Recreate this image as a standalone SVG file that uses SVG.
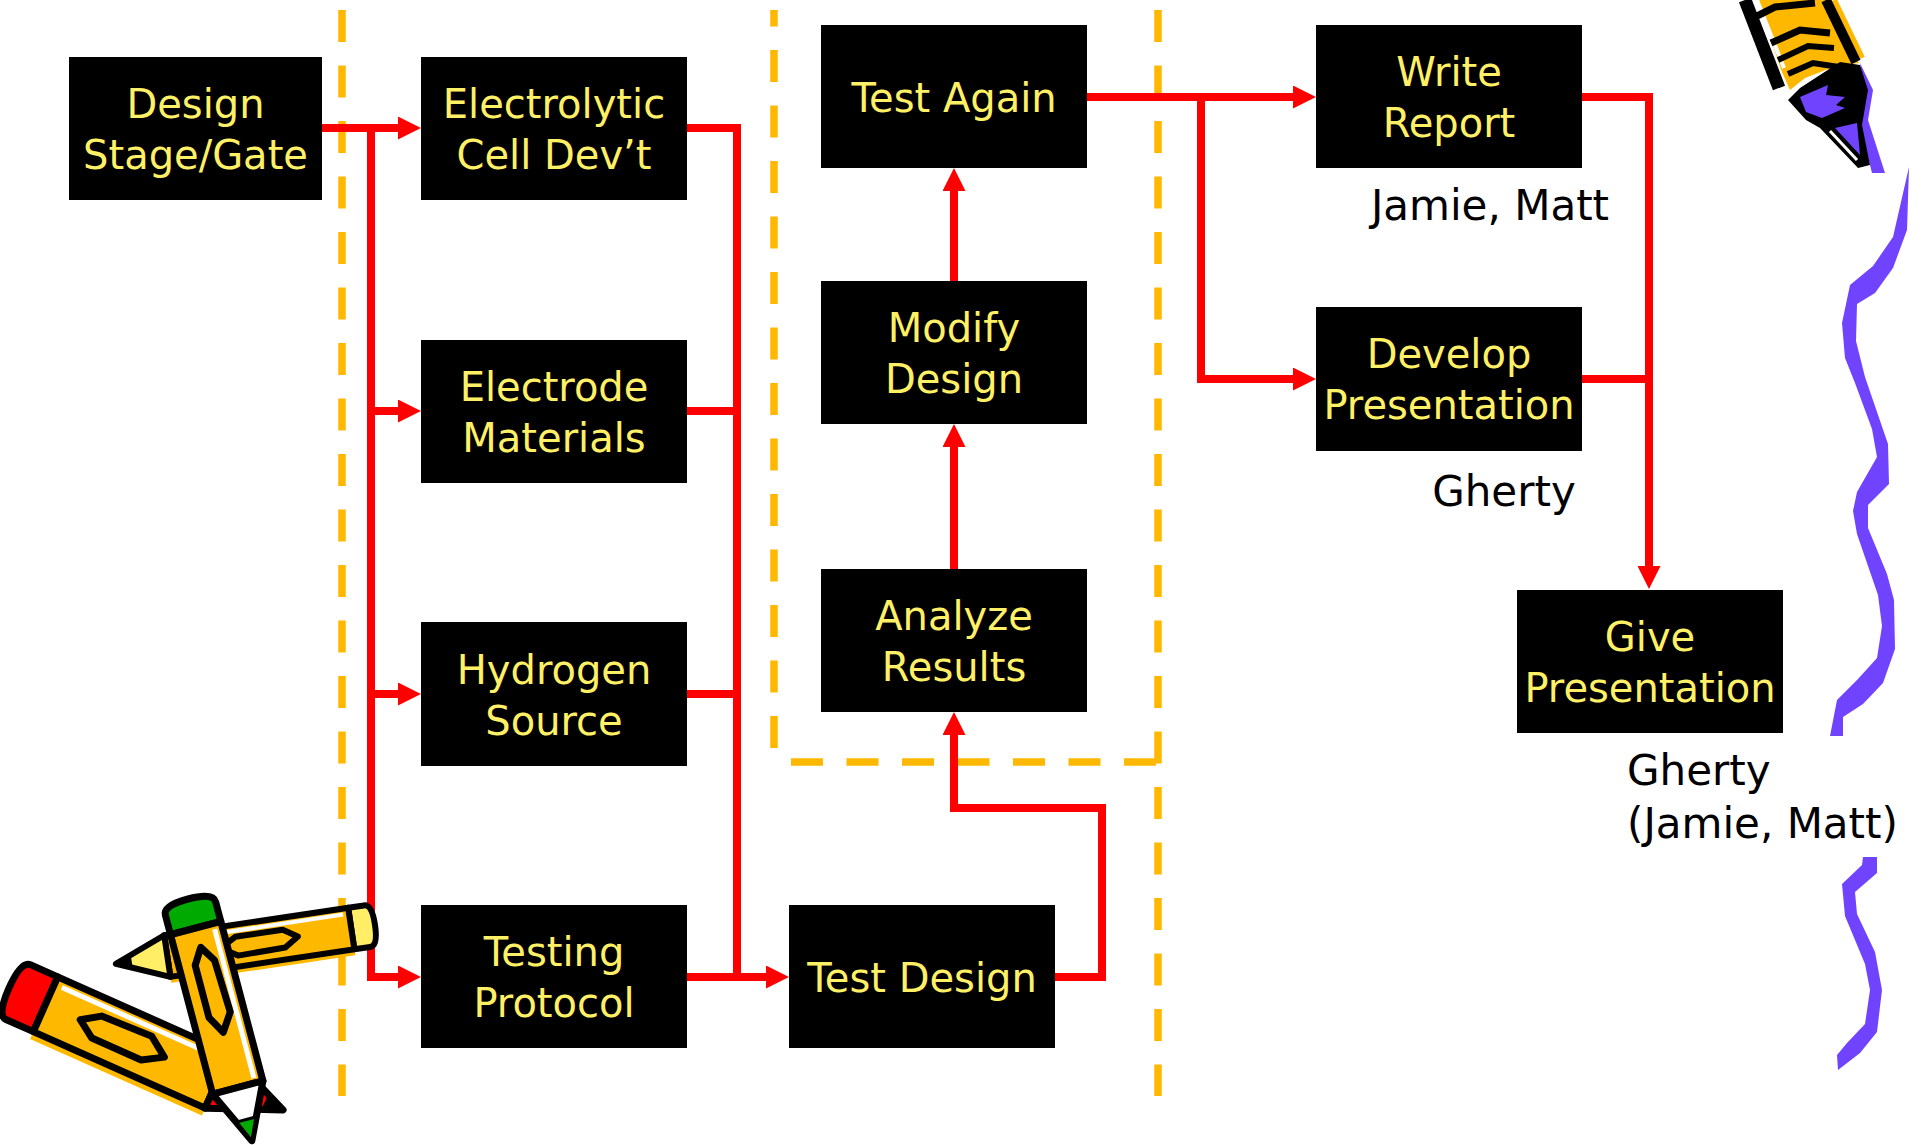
<svg xmlns="http://www.w3.org/2000/svg" width="1923" height="1145" viewBox="0 0 1923 1145">
  <style>
    .box { fill: #000000; }
    .lbl { font-family: "DejaVu Sans", "Liberation Sans", sans-serif; font-size: 40px; fill: #FFF066; text-anchor: middle; }
    .note { font-family: "DejaVu Sans", "Liberation Sans", sans-serif; font-size: 42px; fill: #000000; }
    .wire { fill: none; stroke: #FF0000; stroke-width: 8; stroke-linejoin: miter; }
    .dash { fill: none; stroke: #FFB800; stroke-width: 7.5; stroke-dasharray: 32 23.5; }
    .ink { stroke: #000000; stroke-linejoin: round; }
  </style>
  <defs>
    <marker id="arrow" viewBox="0 0 23 23" refX="1" refY="11.5" markerWidth="23" markerHeight="23" markerUnits="userSpaceOnUse" orient="auto">
      <path d="M0,0 L23,11.5 L0,23 Z" fill="#FF0000"/>
    </marker>
  </defs>

  <rect width="1923" height="1145" fill="#FFFFFF"/>

  <!-- phase separators -->
  <g id="separators">
    <line class="dash" x1="342" y1="10" x2="342" y2="1096"/>
    <line class="dash" x1="774" y1="10" x2="774" y2="754" stroke-dashoffset="15.5"/>
    <line class="dash" x1="1158" y1="10" x2="1158" y2="1096"/>
    <line class="dash" x1="791" y1="762" x2="1158" y2="762" stroke-dasharray="31 24.8"/>
  </g>

  <!-- connectors -->
  <g id="connectors">
    <path class="wire" d="M321,128 H399" marker-end="url(#arrow)"/>
    <path class="wire" d="M371,128 V977 H399" marker-end="url(#arrow)"/>
    <path class="wire" d="M371,411 H399" marker-end="url(#arrow)"/>
    <path class="wire" d="M371,694 H399" marker-end="url(#arrow)"/>
    <path class="wire" d="M687,128 H737 V977"/>
    <path class="wire" d="M687,411 H737"/>
    <path class="wire" d="M687,694 H737"/>
    <path class="wire" d="M687,977 H767" marker-end="url(#arrow)"/>
    <path class="wire" d="M1055,977 H1102 V808 H954 V734" marker-end="url(#arrow)"/>
    <path class="wire" d="M954,569 V446" marker-end="url(#arrow)"/>
    <path class="wire" d="M954,281 V190" marker-end="url(#arrow)"/>
    <path class="wire" d="M1087,97 H1294" marker-end="url(#arrow)"/>
    <path class="wire" d="M1201,97 V379 H1294" marker-end="url(#arrow)"/>
    <path class="wire" d="M1582,97 H1649 V567" marker-end="url(#arrow)"/>
    <path class="wire" d="M1582,379 H1649"/>
  </g>

  <!-- process steps -->
  <g id="design-stage-gate">
    <rect class="box" x="69" y="57" width="253" height="143"/>
    <text class="lbl" x="195.5" y="118">Design</text>
    <text class="lbl" x="195.5" y="169">Stage/Gate</text>
  </g>
  <g id="electrolytic-cell">
    <rect class="box" x="421" y="57" width="266" height="143"/>
    <text class="lbl" x="554" y="118">Electrolytic</text>
    <text class="lbl" x="554" y="169">Cell Dev’t</text>
  </g>
  <g id="electrode-materials">
    <rect class="box" x="421" y="340" width="266" height="143"/>
    <text class="lbl" x="554" y="401">Electrode</text>
    <text class="lbl" x="554" y="452">Materials</text>
  </g>
  <g id="hydrogen-source">
    <rect class="box" x="421" y="622" width="266" height="144"/>
    <text class="lbl" x="554" y="684">Hydrogen</text>
    <text class="lbl" x="554" y="735">Source</text>
  </g>
  <g id="testing-protocol">
    <rect class="box" x="421" y="905" width="266" height="143"/>
    <text class="lbl" x="554" y="966">Testing</text>
    <text class="lbl" x="554" y="1017">Protocol</text>
  </g>
  <g id="test-design">
    <rect class="box" x="789" y="905" width="266" height="143"/>
    <text class="lbl" x="922" y="992">Test Design</text>
  </g>
  <g id="analyze-results">
    <rect class="box" x="821" y="569" width="266" height="143"/>
    <text class="lbl" x="954" y="630">Analyze</text>
    <text class="lbl" x="954" y="681">Results</text>
  </g>
  <g id="modify-design">
    <rect class="box" x="821" y="281" width="266" height="143"/>
    <text class="lbl" x="954" y="342">Modify</text>
    <text class="lbl" x="954" y="393">Design</text>
  </g>
  <g id="test-again">
    <rect class="box" x="821" y="25" width="266" height="143"/>
    <text class="lbl" x="954" y="112">Test Again</text>
  </g>
  <g id="write-report">
    <rect class="box" x="1316" y="25" width="266" height="143"/>
    <text class="lbl" x="1449" y="86">Write</text>
    <text class="lbl" x="1449" y="137">Report</text>
    <text class="note" x="1490" y="220" text-anchor="middle">Jamie, Matt</text>
  </g>
  <g id="develop-presentation">
    <rect class="box" x="1316" y="307" width="266" height="144"/>
    <text class="lbl" x="1449" y="368">Develop</text>
    <text class="lbl" x="1449" y="419">Presentation</text>
    <text class="note" x="1504" y="506" text-anchor="middle">Gherty</text>
  </g>
  <g id="give-presentation">
    <rect class="box" x="1517" y="590" width="266" height="143"/>
    <text class="lbl" x="1650" y="651">Give</text>
    <text class="lbl" x="1650" y="702">Presentation</text>
    <text class="note" x="1627" y="785">Gherty</text>
    <text class="note" x="1627" y="838">(Jamie, Matt)</text>
  </g>

  <!-- pen and ink stroke, upper right -->
  <g id="pen">
    <polygon points="1860,63 1873,90 1868,120 1885,173 1872,173 1860,125 1864,90" fill="#7044FF"/>
    <polygon points="1757,0 1826,0 1859,63 1836,66 1805,78 1790,90 1782,72" fill="#FFB800"/>
    <line x1="1834" y1="0" x2="1862" y2="58" stroke="#FFB800" stroke-width="6"/>
    <line x1="1826" y1="0" x2="1856" y2="62" stroke="#000" stroke-width="10"/>
    <line x1="1745" y1="0" x2="1779" y2="88" stroke="#000" stroke-width="13"/>
    <line x1="1757" y1="0" x2="1784" y2="68" stroke="#FFF" stroke-width="4"/>
    <polyline points="1757,16 1775,7 1815,3" fill="none" stroke="#000" stroke-width="7"/>
    <polyline points="1771,43 1800,30 1830,33" fill="none" stroke="#000" stroke-width="7"/>
    <polyline points="1778,60 1808,46 1834,48" fill="none" stroke="#000" stroke-width="6"/>
    <polyline points="1788,74 1813,63 1839,67" fill="none" stroke="#000" stroke-width="6"/>
    <polygon points="1788,100 1800,88 1840,62 1860,65 1868,90 1862,125 1870,165 1858,168 1820,128 1806,120" fill="#000"/>
    <polygon points="1800,97 1828,85 1826,95 1845,97 1836,105 1845,108 1822,118 1806,112" fill="#7044FF"/>
    <polygon points="1835,128 1857,123 1860,155" fill="#7044FF"/>
    <line x1="1830" y1="131" x2="1857" y2="160" stroke="#FFF" stroke-width="3"/>
  </g>
  <g id="ink-stroke" fill="#7044FF">
    <polygon points="1909,167 1907,230 1893,268 1875,293 1857,304 1856,341 1865,377 1888,444 1889,484 1868,505 1868,528 1887,574 1894,600 1895,649 1883,683 1863,704 1843,717 1843,736 1830,736 1837,700 1858,679 1877,658 1882,626 1878,595 1857,534 1853,511 1857,492 1877,457 1872,429 1855,383 1845,358 1842,323 1850,285 1873,266 1893,237"/>
    <polygon points="1877,857 1877,873 1855,892 1857,914 1875,952 1882,990 1877,1032 1860,1053 1838,1070 1837,1055 1847,1043 1865,1024 1870,990 1865,964 1845,916 1842,884 1862,865 1863,857"/>
  </g>

  <!-- crossed pencils, lower left -->
  <g id="pencils">
    <!-- pale yellow pencil -->
    <g transform="translate(375,925) rotate(171.5)">
      <rect x="24" y="-27" width="186" height="7" fill="#FFB800"/>
      <path class="ink" d="M24,-21 H8 Q0,-21 0,0 Q0,21 8,21 H24 Z" fill="#FFEE66" stroke-width="6"/>
      <rect class="ink" x="24" y="-21" width="186" height="42" fill="#FFB800" stroke-width="6"/>
      <line x1="30" y1="15" x2="205" y2="15" stroke="#FFF" stroke-width="4"/>
      <polygon class="ink" points="78,0 92,-9 140,-10 156,0 140,9 92,9" fill="none" stroke-width="6"/>
      <polygon class="ink" points="210,-21 262,0 210,21" fill="#FFEE66" stroke-width="6"/>
      <polygon points="246,-6 262,0 246,6" fill="#000"/>
    </g>
    <!-- red pencil -->
    <g transform="translate(9,988) rotate(24)">
      <rect x="40" y="30" width="188" height="8" fill="#FFB800"/>
      <path class="ink" d="M40,-30 H10 Q0,-30 0,0 Q0,30 10,30 H40 Z" fill="#FF0000" stroke-width="7"/>
      <rect class="ink" x="40" y="-30" width="188" height="60" fill="#FFB800" stroke-width="7"/>
      <line x1="48" y1="-22" x2="222" y2="-22" stroke="#FFF" stroke-width="5"/>
      <polygon class="ink" points="78,0 96,-12 150,-14 170,0 150,12 96,12" fill="none" stroke-width="7"/>
      <polygon class="ink" points="228,-30 300,0 228,30" fill="#FF0000" stroke-width="7"/>
      <polygon points="280,-8 300,0 280,8" fill="#000"/>
    </g>
    <!-- green pencil -->
    <g transform="translate(188,899) rotate(75.2)">
      <path class="ink" d="M30,-26 H10 Q0,-26 0,0 Q0,26 10,26 H30 Z" fill="#00AA00" stroke-width="7"/>
      <rect class="ink" x="30" y="-26" width="165" height="52" fill="#FFB800" stroke-width="7"/>
      <line x1="36" y1="-18" x2="190" y2="-18" stroke="#FFF" stroke-width="5"/>
      <polygon class="ink" points="50,0 66,-10 120,-12 138,0 120,10 66,10" fill="none" stroke-width="7"/>
      <polygon class="ink" points="195,-26 250,0 195,26" fill="#FFFFFF" stroke-width="7"/>
      <polygon points="228,-10 250,0 228,10" fill="#00AA00" stroke="#000" stroke-width="3"/>
    </g>
  </g>
</svg>
